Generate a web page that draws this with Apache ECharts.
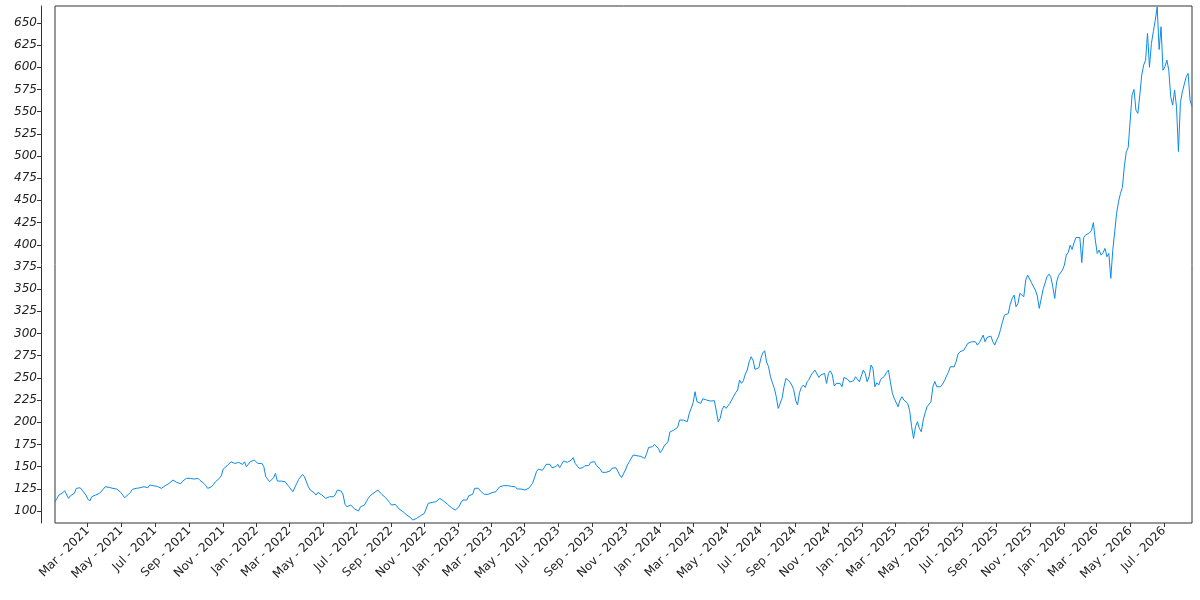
<!DOCTYPE html>
<html>
<head>
<meta charset="utf-8">
<script src="https://cdn.jsdelivr.net/npm/echarts@6/dist/echarts.min.js"></script>
<style>
html,body{margin:0;padding:0;background:#fff;}
#chart{width:1200px;height:600px;}
</style>
</head>
<body>
<div id="chart"></div>
<script>
// samples every 7 days starting 2021-01-01, plus mid-week samples (3.5 days later)
const startDate = [2021, 0, 1];
const stepDays = 7;

const prices2021 = [
  110.5, 118, 120.6, 122.5, 117.2, 119.9, 127.4, 123.6, 118, 111.2,
  117.2, 119.1, 121, 127.4, 126.6, 125.5, 124.7, 121, 115, 118.7,
  124.4, 125.5, 126.2, 127.4, 126.2, 130, 128.5, 128.5, 126.2, 130,
  133, 134.9, 131.1, 133.7, 136.8, 136.8, 136, 136.8, 133, 128.5,
  126.2, 130, 134.9, 139.8, 148.8, 151.8, 155.5, 153.6, 153.6, 155.5,
  148.8
];
const prices2022 = [
  157.4, 157.4, 154.8, 149.9, 136.8, 133, 142.4, 133.7, 133, 132.2,
  125.5, 121, 135.6, 141.3, 133, 123.6, 120.6, 121, 118, 114.2,
  116.1, 116.1, 123.6, 122.5, 107.5, 103.7, 104.8, 101.1, 104.8, 106.7,
  114.2, 118.7, 121.7, 121.7, 117.2, 112.3, 106.7, 107.5, 102.2, 99.2,
  95.4, 92.4, 88.7, 93.6, 95.4, 99.2, 109.7, 108.6, 111.2, 112.3
];
const prices2023 = [
  110.5, 105.7, 102.3, 101.1, 109.8, 113.5, 117.3, 118.8, 123.7, 122.6,
  118.8, 118.8, 120.7, 121.8, 127.4, 128.6, 128.6, 127.8, 127.4, 122.6,
  123.7, 124.8, 127, 132.3, 147.3, 145.8, 152.6, 152.6, 149.2, 152.6,
  152.6, 157.5, 154.8, 160.1, 153.7, 148.8, 151.1, 151.1, 156.3, 151.1,
  147.3, 142.5, 145.8, 148.1, 148.8, 140.6, 138.7, 151.8, 157.1, 165,
  162
];
const prices2024 = [
  160.4, 164.9, 172.4, 175.1, 170.6, 168.7, 174, 189, 191.2,
  194.2, 200.6, 201.4, 210, 222, 223.1, 221.3, 225.8, 226.1, 223.9,
  223.1, 204.4, 218.3, 217.5, 223.1, 233.3, 247.5, 246.8, 258.8, 273.8,
  259.6, 261.4, 278, 268, 251.3, 238.2, 215.6, 226.9, 249.4, 245.7,
  237, 219.4, 239.3, 239.3, 248.3, 255.1, 259.6, 253.2, 255.1, 255.1,
  253.2
];
const prices2025 = [
  243.8, 243.8, 250.5, 248.3, 246.8, 251.3, 245.6, 258.8, 245.6,
  264.4, 240, 241.9, 250.5, 256.2, 245.6, 226.9, 217.5, 228.7, 225,
  213, 181.8, 200.6, 189.3, 210.7, 218.6, 240, 240, 240, 246.8,
  256.2, 261.8, 268.2, 279.4, 281.3, 288.8, 290.7, 290.7, 289.6, 298.2,
  295.6, 297.1, 286.9, 297.1, 313.2, 322.6, 333.1, 343.3, 333.9, 347,
  360.2
];
const prices2026 = [
  364, 355.7, 342.2, 330, 351.9, 366.9, 352.7, 358.3, 363.9,
  377.1, 391.3, 394.7, 408.2, 408.2, 408.2, 409.7, 415.8, 405.2, 394,
  391, 386.5, 362.1, 394.7, 448.4, 464.6, 504.7, 509.6, 575, 548,
  591.1, 608, 600, 640, 668, 645.6, 600.5, 596.7, 557.3, 555,
  560, 573.5, 593, 555.4
];

// mid-week readings (between consecutive weekly samples)
const mid2021 = [
  114.2, 119.1, 122.9, 114.2, 118.7, 125.5, 126.2, 123.6, 113.5, 116.1,
  118, 119.9, 124.7, 127.4, 125.5, 126.2, 122.5, 118, 114.2, 121,
  124.4, 125.5, 126.6, 126.6, 129.2, 128.5, 127.7, 125.5, 128.5, 131.1,
  134.9, 132.2, 130.7, 135.3, 136.8, 136.8, 137.5, 134.5, 131.1, 125.5,
  127.4, 133, 136.8, 147.3, 151, 155.5, 153.6, 154.8, 152.5, 149.9
];
const mid2022 = [
  155.5, 157.4, 153.6, 153.6, 138.6, 133, 137.5, 133.7, 133.7, 133,
  127.4, 121.7, 131.1, 136.8, 138.6, 127.4, 122.5, 118, 119.9, 117.2,
  112.3, 114.2, 118.7, 121.7, 118, 104.8, 106.7, 102.2, 100, 105.2,
  110.5, 117.2, 120.6, 123.6, 118.7, 115, 109.7, 104.8, 107.5, 100,
  97.3, 96.6, 89.8, 91.7, 94.7, 97.3, 108.6, 109.7, 110.5, 114.2
];
const mid2023 = [
  111.3, 107.5, 103.8, 101.1, 104.9, 112.4, 112.4, 119.2, 125.6, 125.6,
  123.7, 119.9, 119.9, 121.8, 124.8, 126.7, 130.8, 127.4, 128.2, 124.8,
  124.8, 123.7, 125.6, 131.2, 144.3, 146.2, 148.8, 151.8, 148.8, 150,
  148.8, 156.3, 154.8, 157.5, 153.7, 148.1, 148.8, 150, 154.8, 155.6,
  149.2, 143.6, 143.6, 145.1, 150, 145.1, 137.6, 146.2, 155.6, 163.1,
  162.3
];
const mid2024 = [
  161.5, 159.3, 171.7, 172.4, 174.7, 165.7, 173.2, 178.1, 190.1, 191.2,
  202.5, 202.5, 200.6, 215.6, 234.4, 222, 226.5, 225, 223.9, 224.3,
  200.6, 214.5, 215.6, 221.3, 229.5, 236.3, 243.8, 254.3, 268.2, 270.1,
  261.8, 271.9, 280.6, 262.6, 244.5, 228.8, 217.5, 240, 247.5, 241.9,
  225, 233.3, 241.9, 245.7, 253.2, 258.8, 250.5, 252, 243.8, 258
];
const mid2025 = [
  240.8, 243, 240, 249.4, 245.3, 246.8, 249.4, 247.5, 255, 251.3,
  260.7, 244.5, 248.3, 252, 258.8, 233.3, 226.9, 225, 225, 221.2,
  195, 195, 193.1, 202.5, 217.5, 223.1, 246, 241.9, 243, 252,
  262.5, 262.5, 276.8, 281.3, 285.1, 288.8, 288.8, 286.9, 291.8, 290.7,
  294.5, 290.7, 292.6, 304.6, 320.7, 322.6, 339.5, 330.1, 345.2, 341.4
];
const mid2026 = [
  365.8, 357.2, 348.9, 328.3, 349.7, 363.9, 363.9, 339.5, 365.4, 371.4,
  388.3, 399.6, 402.2, 409, 380, 410.9, 413.5, 425, 390.2, 388.3,
  395.9, 390.2, 393.2, 435.3, 457.8, 487.8, 509.6, 568.6, 551.7, 568.6,
  602.4, 638, 626.8, 653, 620, 596.7, 608, 566.7, 574.2, 505,
  572.3, 589.2, 562.9
];

const xTickDates = [
  '2021-03-01','2021-05-01','2021-07-01','2021-09-01','2021-11-01',
  '2022-01-01','2022-03-01','2022-05-01','2022-07-01','2022-09-01','2022-11-01',
  '2023-01-01','2023-03-01','2023-05-01','2023-07-01','2023-09-01','2023-11-01',
  '2024-01-01','2024-03-01','2024-05-01','2024-07-01','2024-09-01','2024-11-01',
  '2025-01-01','2025-03-01','2025-05-01','2025-07-01','2025-09-01','2025-11-01',
  '2026-01-01','2026-03-01','2026-05-01','2026-07-01'
];
const yTicks = [100,125,150,175,200,225,250,275,300,325,350,375,400,425,450,475,500,525,550,575,600,625,650];
const monthNames = ['Jan','Feb','Mar','Apr','May','Jun','Jul','Aug','Sep','Oct','Nov','Dec'];

const weekly = [].concat(prices2021, prices2022, prices2023, prices2024, prices2025, prices2026);
const mids = [].concat(mid2021, mid2022, mid2023, mid2024, mid2025, mid2026);
const DAY = 86400000;
const t0 = new Date(startDate[0], startDate[1], startDate[2]).getTime();
const data = [];
weekly.forEach(function (v, i) {
  data.push([t0 + i * stepDays * DAY, v]);
  if (i < mids.length) data.push([t0 + (i * stepDays + stepDays / 2) * DAY, mids[i]]);
});
function parseDay(s) {
  const p = s.split('-').map(Number);
  return new Date(p[0], p[1] - 1, p[2]).getTime();
}
const xTicks = xTickDates.map(parseDay);
const xMin = data[0][0];
const xMax = data[data.length - 1][0];

const chart = echarts.init(document.getElementById('chart'), null, {renderer: 'canvas'});
chart.setOption({
  animation: false,
  backgroundColor: '#ffffff',
  grid: {
    left: 55, right: 8, top: 6, bottom: 77,
    show: true, borderColor: '#333333', borderWidth: 1, backgroundColor: 'transparent',
    containLabel: false
  },
  xAxis: {
    type: 'value',
    min: xMin,
    max: xMax,
    scale: true,
    splitLine: {show: false},
    axisLine: {show: false},
    axisTick: {show: true, length: 4, lineStyle: {color: '#333', width: 1}, customValues: xTicks},
    axisLabel: {
      customValues: xTicks,
      rotate: 45,
      margin: 6,
      fontFamily: 'DejaVu Sans',
      fontSize: 12,
      color: '#222',
      hideOverlap: false,
      formatter: function (val) {
        const d = new Date(val);
        return monthNames[d.getMonth()] + ' - ' + d.getFullYear();
      }
    }
  },
  yAxis: {
    type: 'value',
    min: 86.5,
    max: 669,
    offset: 14,
    splitLine: {show: false},
    axisLine: {show: true, lineStyle: {color: '#333', width: 1}},
    axisTick: {show: true, length: 4, lineStyle: {color: '#333', width: 1}, customValues: yTicks},
    axisLabel: {
      customValues: yTicks,
      margin: 4,
      fontFamily: 'DejaVu Sans',
      fontStyle: 'italic',
      fontSize: 12,
      color: '#222'
    }
  },
  series: [{
    type: 'line',
    data: data,
    showSymbol: false,
    symbol: 'none',
    lineStyle: {width: 1, color: '#0d8ae8'},
    itemStyle: {color: '#0d8ae8'}
  }]
});
</script>
</body>
</html>
